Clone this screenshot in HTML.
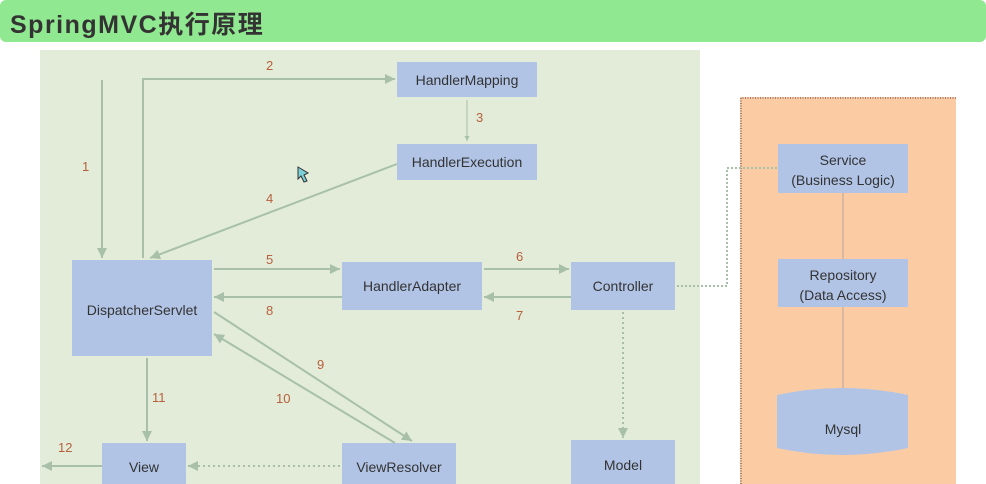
<!DOCTYPE html>
<html><head><meta charset="utf-8"><style>
body{margin:0;width:986px;height:484px;overflow:hidden;background:#fff;font-family:"Liberation Sans","Noto Sans CJK SC",sans-serif}
.t{position:absolute;left:0;top:0;width:986px;height:42px;background:#90e890;border-radius:6px}
.t span{position:absolute;left:10px;top:5px;font-size:25px;font-weight:bold;color:#333;letter-spacing:1.5px}
</style></head><body>
<div class="t"><span>SpringMVC执行原理</span></div>
<svg width="986" height="484" style="position:absolute;left:0;top:0" font-family="Liberation Sans, sans-serif">
<defs><marker id="a" markerWidth="6" markerHeight="6" refX="5" refY="3" orient="auto"><path d="M0,0.5L5,3L0,5.5z" fill="#a8c0a8"/></marker></defs>
<rect x="40" y="50" width="660" height="434" fill="#e2ecd9"/>
<rect x="740" y="97" width="216" height="387" fill="#fbcba4"/>
<path d="M741,484V98H956" fill="none" stroke="#8a6a5a" stroke-dasharray="1,1.5" stroke-width="1.5"/>
<g fill="#b1c4e6">
<rect x="397" y="62" width="140" height="35"/>
<rect x="397" y="144" width="140" height="36"/>
<rect x="72" y="260" width="140" height="96"/>
<rect x="342" y="262" width="140" height="48"/>
<rect x="571" y="262" width="104" height="48"/>
<rect x="102" y="443" width="84" height="41"/>
<rect x="342" y="443" width="114" height="41"/>
<rect x="571" y="440" width="104" height="44"/>
<rect x="778" y="144" width="130" height="49"/>
<rect x="778" y="259" width="130" height="48"/>
<path d="M777,395Q842,381 908,395V448Q842,462 777,448Z"/>
</g>
<g stroke="#a8c0a8" stroke-width="2" fill="none">
<line x1="102" y1="80" x2="102" y2="258" marker-end="url(#a)"/>
<path d="M143,258V79H395" marker-end="url(#a)"/>
<line x1="467" y1="100" x2="467" y2="141" stroke-width="1" marker-end="url(#a)"/>
<line x1="397" y1="164" x2="150" y2="258" marker-end="url(#a)"/>
<line x1="214" y1="269" x2="340" y2="269" marker-end="url(#a)"/>
<line x1="342" y1="297" x2="214" y2="297" marker-end="url(#a)"/>
<line x1="484" y1="269" x2="569" y2="269" marker-end="url(#a)"/>
<line x1="571" y1="297" x2="484" y2="297" marker-end="url(#a)"/>
<line x1="214" y1="312" x2="412" y2="441" marker-end="url(#a)"/>
<line x1="395" y1="443" x2="214" y2="334" marker-end="url(#a)"/>
<line x1="147" y1="358" x2="147" y2="441" marker-end="url(#a)"/>
<line x1="102" y1="466" x2="42" y2="466" marker-end="url(#a)"/>
<line x1="340" y1="466" x2="188" y2="466" stroke-dasharray="2,3" marker-end="url(#a)"/>
<line x1="623" y1="312" x2="623" y2="438" stroke-dasharray="2,3" marker-end="url(#a)"/>
<path d="M677,286H727V168H778" stroke-dasharray="2,2"/>
<line x1="843" y1="193" x2="843" y2="259" stroke="#d9b9a0"/>
<line x1="843" y1="307" x2="843" y2="388" stroke="#d9b9a0"/>
</g>
<g fill="#b8603c" font-size="13">
<text x="82" y="171">1</text><text x="266" y="70">2</text><text x="476" y="122">3</text>
<text x="266" y="203">4</text><text x="266" y="264">5</text><text x="516" y="261">6</text>
<text x="516" y="320">7</text><text x="266" y="315">8</text><text x="317" y="369">9</text>
<text x="276" y="403">10</text><text x="152" y="402">11</text><text x="58" y="452">12</text>
</g>
<g fill="#333" font-size="14" text-anchor="middle">
<text x="467" y="85">HandlerMapping</text>
<text x="467" y="167">HandlerExecution</text>
<text x="142" y="315">DispatcherServlet</text>
<text x="412" y="291">HandlerAdapter</text>
<text x="623" y="291">Controller</text>
<text x="144" y="472">View</text>
<text x="399" y="472">ViewResolver</text>
<text x="623" y="470">Model</text>
<text x="843" y="165">Service</text><text x="843" y="185">(Business Logic)</text>
<text x="843" y="280">Repository</text><text x="843" y="300">(Data Access)</text>
<text x="843" y="434">Mysql</text>
</g>
<path d="M298,167l10,6l-4,2l3,6l-3,1l-3,-6l-3,3z" fill="#7cd0d8" stroke="#333" stroke-width="1"/>
</svg>
</body></html>
